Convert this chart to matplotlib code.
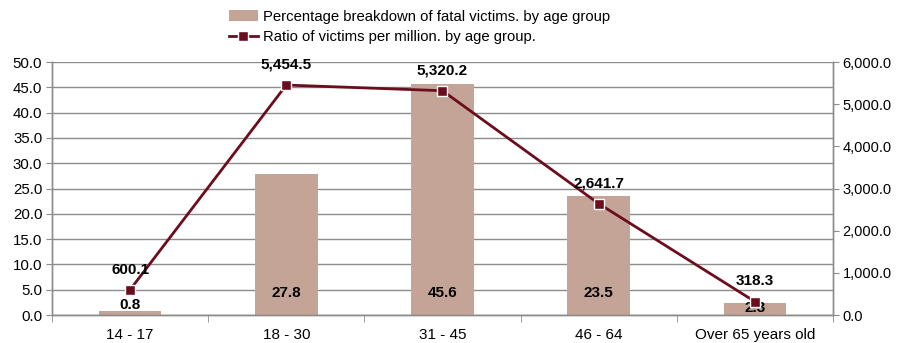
import numpy as np
import matplotlib
matplotlib.use("Agg")
import matplotlib.pyplot as plt
from matplotlib.ticker import FuncFormatter, MultipleLocator, FixedLocator

plt.rcParams["font.family"] = ["Liberation Sans", "DejaVu Sans"]

groups = ["14 - 17", "18 - 30", "31 - 45", "46 - 64", "Over 65 years old"]
pct_victims = [0.8, 27.8, 45.6, 23.5, 2.3]
ratio_per_million = [600.1, 5454.5, 5320.2, 2641.7, 318.3]

BAR_C = "#c4a497"
LINE_C = "#6b0d1d"
GRID_C = "#8c8c8c"

fig = plt.figure(figsize=(9.01, 3.43), dpi=100)
ax = fig.add_axes([0.0577, 0.0816, 0.8668, 0.7375])
ax2 = ax.twinx()

x = np.arange(len(groups))
bars = ax.bar(x, pct_victims, width=0.4, color=BAR_C, zorder=2,
              label="Percentage breakdown of fatal victims. by age group")
line, = ax2.plot(x, ratio_per_million, color=LINE_C, lw=2, marker="s", ms=7,
                 mec="white", mew=1, zorder=3,
                 label="Ratio of victims per million. by age group.")

ax.set_xlim(-0.5, len(groups) - 0.5)
ax.set_ylim(0, 50)
ax2.set_ylim(0, 6000)
ax.yaxis.set_major_locator(MultipleLocator(5))
ax2.yaxis.set_major_locator(MultipleLocator(1000))
ax.yaxis.set_major_formatter(FuncFormatter(lambda v, p: "%.1f" % v))
ax2.yaxis.set_major_formatter(FuncFormatter(lambda v, p: "{:,.1f}".format(v)))
ax.grid(axis="y", color=GRID_C, lw=1, zorder=0)
ax.set_axisbelow(True)

# category labels centred, tick marks on the boundaries
ax.set_xticks(x)
ax.set_xticklabels(groups)
ax.tick_params(axis="x", which="major", length=0, pad=9, labelsize=11)
ax.xaxis.set_minor_locator(FixedLocator(np.arange(len(groups) + 1) - 0.5))
ax.tick_params(axis="x", which="minor", length=5, color=GRID_C, direction="out")
ax.tick_params(axis="y", length=4, color=GRID_C, labelsize=10.8, pad=3)
ax2.tick_params(axis="y", length=4, color=GRID_C, labelsize=10.5, pad=3)

for a in (ax, ax2):
    a.spines["top"].set_visible(False)
    for s in ("left", "right", "bottom"):
        a.spines[s].set_color(GRID_C)
        a.spines[s].set_linewidth(1)

# bar values sit near the base; the tiny first bar gets its label just above it
for xi, v in zip(x, pct_victims):
    off = 16 if v > 10 else (7 if v < 1 else 5)
    ax.annotate("%.1f" % v, (xi, 0), xytext=(0, off), textcoords="offset points",
                ha="center", va="center", fontsize=11, fontweight="bold", zorder=5)

for xi, v in zip(x, ratio_per_million):
    ax2.annotate("{:,.1f}".format(v), (xi, v), xytext=(0, 14.5),
                 textcoords="offset points", ha="center", va="center",
                 fontsize=11, fontweight="bold", zorder=5)

fig.legend([bars, line], [bars.get_label(), line.get_label()],
           loc="upper left", bbox_to_anchor=(0.243, 1.0), frameon=False,
           fontsize=10.7, handlelength=2.0, handletextpad=0.3, labelspacing=0.45,
           borderaxespad=0.25)

fig.savefig("out.png", dpi=100)
